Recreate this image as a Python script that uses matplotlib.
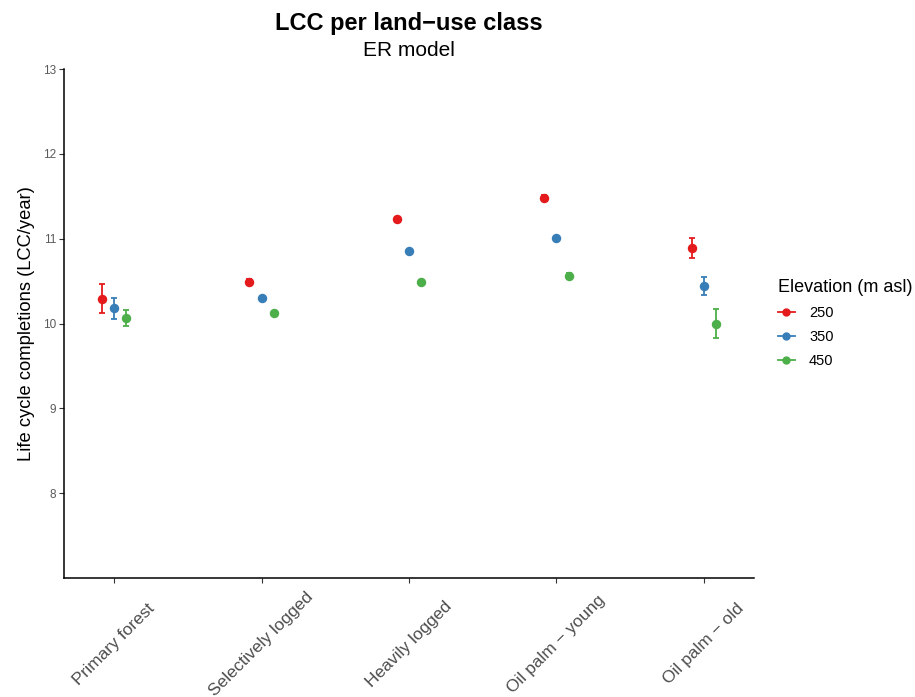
import matplotlib.pyplot as plt
from matplotlib.lines import Line2D

plt.rcParams['font.family'] = ['Liberation Sans', 'DejaVu Sans']

land_use = ["Primary forest", "Selectively logged", "Heavily logged",
            "Oil palm \u2212 young", "Oil palm \u2212 old"]
elevations = ["250", "350", "450"]

# mean LCC per year and standard error, one list per elevation
lcc_250 = [10.29, 10.49, 11.23, 11.48, 10.89]
se_250 = [0.17, 0.04, 0.03, 0.03, 0.12]
lcc_350 = [10.18, 10.30, 10.86, 11.01, 10.44]
se_350 = [0.125, 0.015, 0.01, 0.01, 0.105]
lcc_450 = [10.07, 10.12, 10.49, 10.56, 10.00]
se_450 = [0.095, 0.015, 0.02, 0.03, 0.17]

colors = ['#E41A1C', '#377EB8', '#4DAF4A']
means = [lcc_250, lcc_350, lcc_450]
errs = [se_250, se_350, se_450]
dodge = [-0.0833, 0.0, 0.0833]

fig = plt.figure(figsize=(9.15, 6.97), dpi=100)
ax = fig.add_axes([0.070, 0.1707, 0.754, 0.7303])

x = list(range(1, len(land_use) + 1))
for m, e, c, d in zip(means, errs, colors, dodge):
    ax.errorbar([xi + d for xi in x], m, yerr=e, fmt='o', color=c,
                markersize=5.8, elinewidth=1.3, capsize=2, capthick=1.3)

ax.set_xlim(0.66, 5.34)
ax.set_ylim(7, 13)
ax.set_yticks([8, 9, 10, 11, 12, 13])
ax.set_xticks(x)
ax.set_xticklabels(land_use, rotation=45, ha='center', va='center')

for side in ['top', 'right']:
    ax.spines[side].set_visible(False)
for side in ['left', 'bottom']:
    ax.spines[side].set_linewidth(1.1)
    ax.spines[side].set_color('black')

ax.tick_params(axis='y', length=3.5, width=0.8, color='#333333',
               labelsize=8.5, labelcolor='#5A5A5A', pad=2)
ax.tick_params(axis='x', length=3.5, width=0.8, color='#333333',
               labelsize=12.5, labelcolor='#4D4D4D', pad=44)

ax.set_ylabel("Life cycle completions (LCC/year)", fontsize=13.2, labelpad=6)

fig.text(0.447, 0.966, "LCC per land\u2212use class", fontsize=17,
         fontweight='bold', ha='center', va='center')
fig.text(0.447, 0.928, "ER model", fontsize=15, ha='center', va='center')

handles = [Line2D([0], [0], color=c, marker='o', markersize=5, linewidth=1.3)
           for c in colors]
leg = ax.legend(handles, elevations, title="Elevation (m asl)",
                loc='upper left', bbox_to_anchor=(0.850, 0.600),
                bbox_transform=fig.transFigure, frameon=False,
                fontsize=10.5, title_fontsize=13, handlelength=1.15,
                handletextpad=1.0, labelspacing=0.7, alignment='left',
                borderpad=0, borderaxespad=0)

fig.savefig("out.png", dpi=100)
